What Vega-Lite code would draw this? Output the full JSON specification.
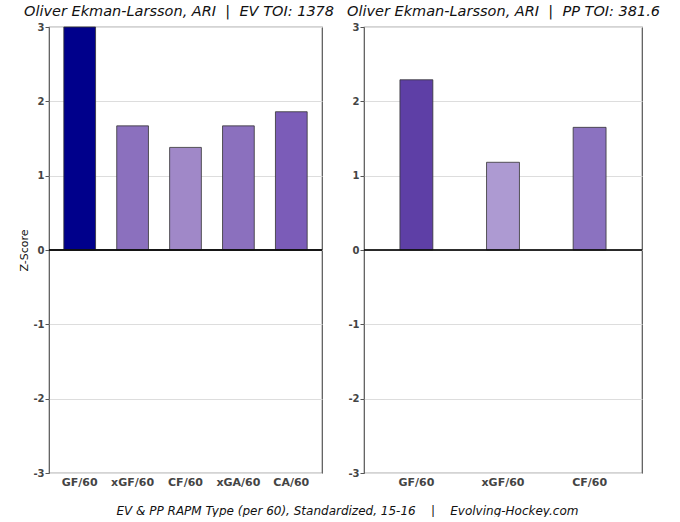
{
  "$schema": "https://vega.github.io/schema/vega-lite/v6.json",
  "padding": {"left": 18, "top": 2, "right": 0, "bottom": 0},
  "background": "white",
  "config": {
    "font": "DejaVu Sans",
    "view": {"stroke": "#555555", "strokeWidth": 1.2},
    "axis": {"labelFont": "DejaVu Sans", "titleFont": "DejaVu Sans"}
  },
  "resolve": {"scale": {"color": "independent", "x": "independent", "y": "independent"}},
  "title": {
    "text": "EV & PP RAPM Type (per 60), Standardized, 15-16\u00a0\u00a0\u00a0\u00a0|\u00a0\u00a0\u00a0\u00a0Evolving-Hockey.com",
    "orient": "bottom",
    "anchor": "middle",
    "fontSize": 12,
    "fontStyle": "italic",
    "fontWeight": "normal",
    "color": "#111111",
    "offset": 18,
    "dx": 8
  },
  "datasets": {
    "ev": [
      {"metric": "GF/60", "key": "EV GF/60", "value": 3.0},
      {"metric": "xGF/60", "key": "EV xGF/60", "value": 1.67},
      {"metric": "CF/60", "key": "EV CF/60", "value": 1.38},
      {"metric": "xGA/60", "key": "EV xGA/60", "value": 1.67},
      {"metric": "CA/60", "key": "EV CA/60", "value": 1.86}
    ],
    "pp": [
      {"metric": "GF/60", "key": "PP GF/60", "value": 2.29},
      {"metric": "xGF/60", "key": "PP xGF/60", "value": 1.18},
      {"metric": "CF/60", "key": "PP CF/60", "value": 1.65}
    ]
  },
  "spacing": 11,
  "hconcat": [
    {
      "width": 273,
      "height": 446,
      "view": {"stroke": "#555555", "strokeWidth": 1.2},
      "title": {
        "text": "Oliver Ekman-Larsson, ARI\u00a0\u00a0|\u00a0\u00a0EV TOI: 1378",
        "anchor": "start",
        "frame": "group",
        "dx": -25,
        "fontSize": 14.5,
        "fontStyle": "italic",
        "fontWeight": "normal",
        "color": "#111111",
        "offset": 3
      },
      "data": {"name": "ev"},
      "layer": [
        {
          "mark": {"type": "bar", "stroke": "#333333", "strokeWidth": 0.8},
          "encoding": {
            "x": {
              "field": "metric", "type": "nominal", "sort": null,
              "scale": {"paddingInner": 0.4, "paddingOuter": 0.28},
              "axis": {"title": null, "labelAngle": 0, "labelFontWeight": "bold", "labelFontSize": 11, "labelColor": "#444444", "ticks": false, "labelPadding": 3, "domain": false}
            },
            "y": {
              "field": "value", "type": "quantitative",
              "scale": {"domain": [-3, 3], "nice": false, "zero": false},
              "axis": {"title": "Z-Score", "titleFontWeight": "normal", "titleFontSize": 11, "titleColor": "#111111", "titlePadding": 3, "values": [-3, -2, -1, 0, 1, 2, 3], "labelExpr": "'' + datum.value", "labelFontWeight": "bold", "labelFontSize": 10, "labelColor": "#444444", "tickSize": 4, "tickColor": "#555555", "labelPadding": 1, "domain": false, "grid": true, "gridColor": "#dddddd", "gridWidth": 1}
            },
            "color": {
              "field": "key", "type": "nominal", "legend": null,
              "scale": {
                "domain": ["EV GF/60", "EV xGF/60", "EV CF/60", "EV xGA/60", "EV CA/60"],
                "range": ["#00008b", "#8b70be", "#a088c8", "#8b70be", "#7b5cb8"]
              }
            }
          }
        },
        {
          "mark": {"type": "rule", "color": "#111111", "strokeWidth": 1},
          "encoding": {"y": {"datum": 0, "type": "quantitative"}}
        }
      ]
    },
    {
      "width": 278,
      "height": 446,
      "view": {"stroke": "#555555", "strokeWidth": 1.2},
      "title": {
        "text": "Oliver Ekman-Larsson, ARI\u00a0\u00a0|\u00a0\u00a0PP TOI: 381.6",
        "anchor": "start",
        "frame": "group",
        "dx": -17,
        "fontSize": 14.5,
        "fontStyle": "italic",
        "fontWeight": "normal",
        "color": "#111111",
        "offset": 3
      },
      "data": {"name": "pp"},
      "layer": [
        {
          "mark": {"type": "bar", "stroke": "#333333", "strokeWidth": 0.8},
          "encoding": {
            "x": {
              "field": "metric", "type": "nominal", "sort": null,
              "scale": {"paddingInner": 0.62, "paddingOuter": 0.415},
              "axis": {"title": null, "labelAngle": 0, "labelFontWeight": "bold", "labelFontSize": 11, "labelColor": "#444444", "ticks": false, "labelPadding": 3, "domain": false}
            },
            "y": {
              "field": "value", "type": "quantitative",
              "scale": {"domain": [-3, 3], "nice": false, "zero": false},
              "axis": {"title": null, "values": [-3, -2, -1, 0, 1, 2, 3], "labelExpr": "'' + datum.value", "labelFontWeight": "bold", "labelFontSize": 10, "labelColor": "#444444", "tickSize": 4, "tickColor": "#555555", "labelPadding": 1, "domain": false, "grid": true, "gridColor": "#dddddd", "gridWidth": 1}
            },
            "color": {
              "field": "key", "type": "nominal", "legend": null,
              "scale": {
                "domain": ["PP GF/60", "PP xGF/60", "PP CF/60"],
                "range": ["#5e3fa6", "#ad9ad2", "#8b72c0"]
              }
            }
          }
        },
        {
          "mark": {"type": "rule", "color": "#111111", "strokeWidth": 1},
          "encoding": {"y": {"datum": 0, "type": "quantitative"}}
        }
      ]
    }
  ]
}
